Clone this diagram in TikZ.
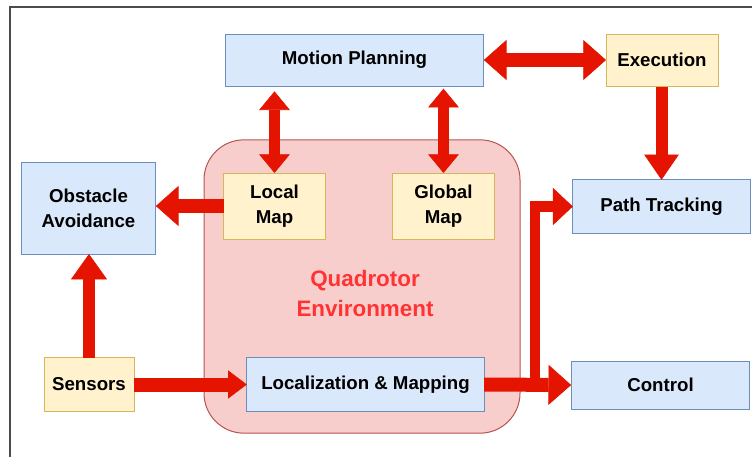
\documentclass[tikz,border=0pt]{standalone}
\usepackage{fontspec}
\setmainfont{Liberation Sans}
\usetikzlibrary{positioning, arrows.meta}
\usepackage{xcolor}
\definecolor{boxblue}{HTML}{DAE8FC}
\definecolor{lineblue}{HTML}{6C8EBF}
\definecolor{boxyellow}{HTML}{FFF2CC}
\definecolor{lineyellow}{HTML}{D6B656}
\definecolor{envred}{HTML}{F8CECC}
\definecolor{envline}{HTML}{B85450}
\definecolor{arrowred}{HTML}{E51400}
\definecolor{textred}{HTML}{FF3333}
\tikzset{block/.style={draw=lineblue, fill=boxblue, line width=0.75pt,
                       inner sep=0pt, outer sep=0pt, align=center,
                       font=\fontsize{14}{19}\selectfont\bfseries},
         mapbox/.style={block, draw=lineyellow, fill=boxyellow},
         flow/.style={arrowred, line width=8pt,
                      >={Triangle[width=23pt, length=14pt, line width=0.5pt]}},
         heavyflow/.style={flow, line width=10.5pt,
                      >={Triangle[width=30pt, length=17pt, line width=0.5pt]}}}

\begin{document}
\begin{tikzpicture}[x=0.75pt, y=-0.75pt]
        \useasboundingbox (0,0) rectangle (752,457);
        % Frame
        \draw[gray!60!black, line width=1.1pt] (10,457) -- (10,7) -- (752,7);

        % Environment
        \node[draw=envline, fill=envred, line width=0.75pt, rounded corners=30pt,
              minimum width=237pt, minimum height=220pt] (env) at (362,286.5) {};
        \node[text=textred, align=center, font=\fontsize{16.8}{22.5}\selectfont\bfseries]
              (envlabel) at (365,293) {Quadrotor\\Environment};

        % Nodes
        \node[block, minimum width=194pt, minimum height=39pt] (plan) at (354.5,60) {Motion Planning};
        \node[mapbox, minimum width=84pt, minimum height=39pt] (exec) at (662,60) {Execution};
        \node[mapbox, minimum width=76pt, minimum height=49.5pt] (lmap) at (274.5,206) {Local\\Map};
        \node[mapbox, minimum width=76pt, minimum height=49.5pt] (gmap) at (443.5,206) {Global\\Map};
        \node[block, minimum width=101pt, minimum height=69pt] (avoid) at (88.5,208) {Obstacle\\Avoidance};
        \node[block, minimum width=133pt, minimum height=40pt] (track) at (661.5,206.5) {Path Tracking};
        \node[mapbox, minimum width=67.5pt, minimum height=40pt] (sens) at (89,384.5) {Sensors};
        \node[block, minimum width=178pt, minimum height=40pt] (loc) at (365.5,384.5) {Localization \& Mapping};
        \node[block, minimum width=134pt, minimum height=36pt] (ctrl) at (660.5,385) {Control};
        \coordinate (split) at (535,385);

        % Edges
        \draw[flow, <->, shorten <=4pt] (plan.south -| lmap.north) -- (lmap.north);
        \draw[flow, <->, shorten <=2pt] (plan.south -| gmap.north) -- (gmap.north);
        \draw[heavyflow, <->] (plan.east) -- (exec.west);
        \draw[flow, line width=9pt, ->, shorten <=1pt,
              >={Triangle[width=26pt, length=19pt, line width=0.5pt]}] (exec.south -| track.north) -- (track.north);
        \draw[heavyflow, ->] (lmap.west) -- (lmap.west -| avoid.east);
        \draw[flow, line width=9pt, ->,
              >={Triangle[width=27pt, length=19pt, line width=0.5pt]}] (sens.north) -- (avoid.south -| sens.north);
        \draw[heavyflow, ->, >={Triangle[width=21pt, length=14pt, line width=0.5pt]}] (sens.east) -- (loc.west);
        \draw[heavyflow, ->] (loc.east) -- (ctrl.west);
        \draw[flow, ->, >={Triangle[width=28pt, length=15pt, line width=0.5pt]}] (split) |- (track.west);
    \end{tikzpicture}
\end{document}
